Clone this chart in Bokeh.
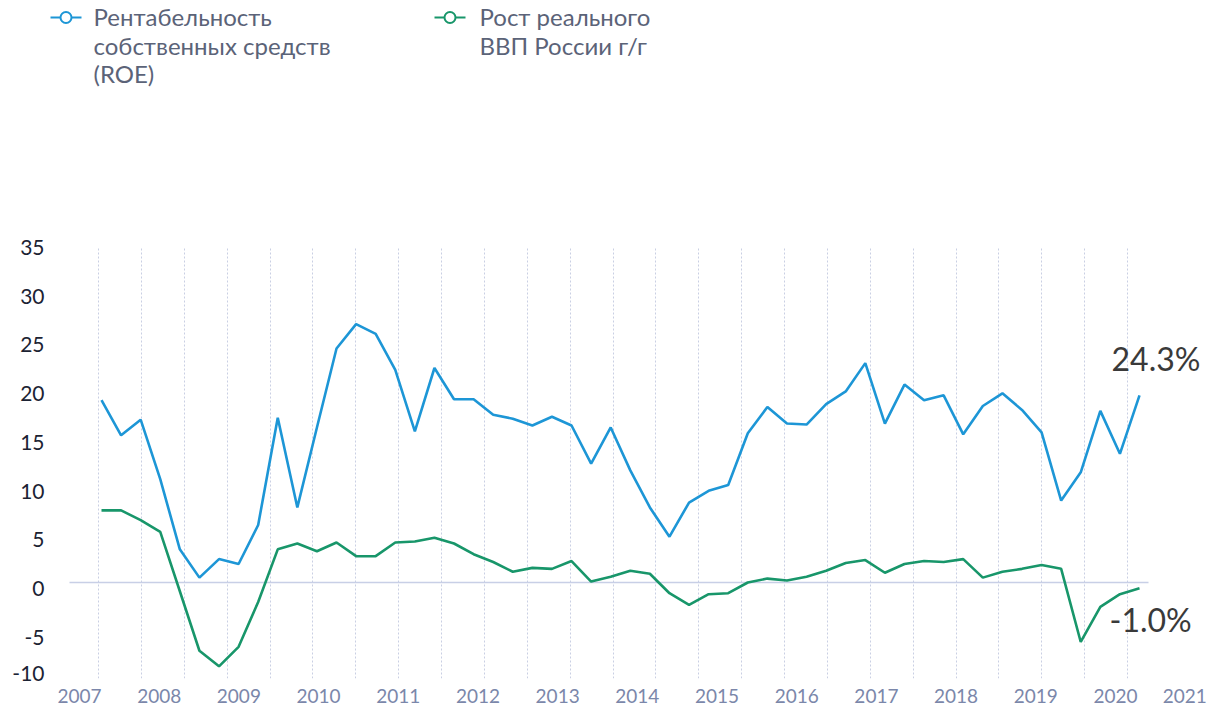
from bokeh.plotting import figure
from bokeh.models import (Range1d, LinearAxis, Grid, FixedTicker, Label,
                          CustomJSTickFormatter)
from bokeh.embed import file_html
from bokeh.resources import INLINE
from bokeh.core.properties import value

# ---------------- data ----------------
quarters = [f"{y}Q{q}" for y in range(2007, 2021) for q in range(1, 5)][:54]

roe = [18.7, 15.1, 16.7, 10.6, 3.4, 0.5, 2.4, 1.9, 5.9, 16.9,
       7.7, 15.9, 24.0, 26.5, 25.5, 21.8, 15.5, 22.0, 18.8, 18.8,
       17.2, 16.8, 16.1, 17.0, 16.1, 12.2, 15.9, 11.5, 7.7, 4.7,
       8.2, 9.4, 10.0, 15.3, 18.0, 16.3, 16.2, 18.3, 19.6, 22.5,
       16.3, 20.3, 18.7, 19.2, 15.2, 18.1, 19.4, 17.7, 15.4, 8.4,
       11.3, 17.6, 13.2, 19.2]

gdp = [7.4, 7.4, 6.4, 5.2, -0.9, -7.0, -8.6, -6.6, -2.0, 3.4,
       4.0, 3.2, 4.1, 2.7, 2.7, 4.1, 4.2, 4.6, 4.0, 2.9,
       2.1, 1.1, 1.5, 1.4, 2.2, 0.1, 0.6, 1.2, 0.9, -1.1,
       -2.3, -1.2, -1.1, 0.0, 0.4, 0.2, 0.6, 1.2, 2.0, 2.3,
       1.0, 1.9, 2.2, 2.1, 2.4, 0.5, 1.1, 1.4, 1.8, 1.4,
       -6.1, -2.5, -1.2, -0.6]

series_names = ["Рентабельность\nсобственных средств\n(ROE)",
                "Рост реального\nВВП России г/г"]
series_colors = ["#1d96d6", "#18966a"]

year_labels = [str(y) for y in range(2007, 2022)]
y_tick_labels = ["-10", "-5", "0", "5", "10", "15", "20", "25", "30", "35"]

last_roe_text = "24.3%"
last_gdp_text = "-1.0%"

FONT = "Lato"

# ---------------- layout geometry (page pixels) ----------------
W, H = 1207, 711
FRAME_L, FRAME_R = 45, 1207
BOTTOM_BORDER = 33
FRAME_B = H - BOTTOM_BORDER          # 678
ZERO_PAGE, PPU = 582.0, 9.75         # page y of value 0, px per unit
y_start = -(FRAME_B - ZERO_PAGE) / PPU
y_end = ZERO_PAGE / PPU

X0_PAGE, DX = 101.0, 19.585          # first quarter / px per quarter
x_start = (FRAME_L - X0_PAGE) / DX
x_end = (FRAME_R - X0_PAGE) / DX

YR0_PAGE, YR_DX = 79.0, 79.69        # 2007 label / px per year
G0_PAGE, G_DX = 98.0, 42.875         # vertical dotted grid
LABEL_DROP = 6.0                     # y labels sit a little below their gridline

p = figure(width=W, height=H,
           x_range=Range1d(x_start, x_end), y_range=Range1d(y_start, y_end),
           output_backend="svg", toolbar_location=None,
           x_axis_type=None, y_axis_type=None,
           min_border_left=FRAME_L, min_border_right=0,
           min_border_top=0, min_border_bottom=BOTTOM_BORDER)
p.outline_line_color = None

d = LABEL_DROP / PPU
p.extra_x_ranges = {
    "yr": Range1d(2007 + (FRAME_L - YR0_PAGE) / YR_DX, 2007 + (FRAME_R - YR0_PAGE) / YR_DX),
    "g": Range1d((FRAME_L - G0_PAGE) / G_DX, (FRAME_R - G0_PAGE) / G_DX),
    "lx": Range1d(FRAME_L, FRAME_R),
}
p.extra_y_ranges = {"ly": Range1d(FRAME_B, 0),
                    "ylab": Range1d(y_start + d, y_end + d)}

# x axis (years)
year_vals = [int(s) for s in year_labels]
tick_pos = year_vals[:-1] + [year_vals[-1] - 0.13]
xaxis = LinearAxis(x_range_name="yr", ticker=FixedTicker(ticks=tick_pos),
                   formatter=CustomJSTickFormatter(code="return Math.round(tick).toString()"))
xaxis.axis_line_color = None
xaxis.major_tick_line_color = None
xaxis.minor_tick_line_color = None
xaxis.major_tick_out = 0
xaxis.major_tick_in = 0
xaxis.major_label_standoff = 10
xaxis.major_label_text_font = FONT
xaxis.major_label_text_font_size = "19px"
xaxis.major_label_text_color = "#7b87aa"
p.add_layout(xaxis, "below")

# y axis (labels slightly below their values; lowest label kept inside the frame)
y_vals = [int(s) for s in y_tick_labels]
y_pos = [v for v in y_vals]
y_pos[0] = -8.72
yaxis = LinearAxis(y_range_name="ylab", ticker=FixedTicker(ticks=y_pos),
                   formatter=CustomJSTickFormatter(
                       code="return tick < -7.5 ? '-10' : Math.round(tick).toString()"))
yaxis.axis_line_color = None
yaxis.major_tick_line_color = None
yaxis.minor_tick_line_color = None
yaxis.major_tick_out = 0
yaxis.major_tick_in = 0
yaxis.major_label_standoff = 1
yaxis.major_label_text_font = FONT
yaxis.major_label_text_font_size = "21px"
yaxis.major_label_text_color = "#1c2333"
p.add_layout(yaxis, "left")

has_cross = "cross_bounds" in Grid.properties()

vgrid = Grid(dimension=0, x_range_name="g", ticker=FixedTicker(ticks=list(range(25))),
             grid_line_color="#c9cfe3", grid_line_dash="2 2", grid_line_width=1)
if has_cross:
    vgrid.cross_bounds = (-9.8, 34.25)
p.add_layout(vgrid)

zgrid = Grid(dimension=1, ticker=FixedTicker(ticks=[0]),
             grid_line_color="#c8cfe6", grid_line_width=1.5)
if has_cross:
    zgrid.cross_bounds = ((69 - X0_PAGE) / DX, len(roe) - 1 + 0.46)
p.add_layout(zgrid)

# series
x = list(range(len(roe)))
p.line(x, roe, line_color=series_colors[0], line_width=2.6)
p.line(x, gdp, line_color=series_colors[1], line_width=2.6)

# end annotations
p.add_layout(Label(x=x[-1], y=roe[-1], x_offset=-28, y_offset=37, text=last_roe_text,
                   text_font=FONT, text_font_size="32px", text_color="#3a3a3a",
                   text_baseline="middle", text_align="left"))
p.add_layout(Label(x=x[-1], y=gdp[-1], x_offset=-30, y_offset=-31, text=last_gdp_text,
                   text_font=FONT, text_font_size="32px", text_color="#3a3a3a",
                   text_baseline="middle", text_align="left"))

# legend (drawn in page-pixel ranges)
legend_x = [50, 434]
legend_text_x = [93, 479]
sym_y = 17
line_centers = [16, 44.5, 73]
for name, color, x0, tx in zip(series_names, series_colors, legend_x, legend_text_x):
    p.segment(x0=[x0], y0=[sym_y], x1=[x0 + 31], y1=[sym_y],
              line_color=color, line_width=2, x_range_name="lx", y_range_name="ly")
    p.scatter(x=[x0 + 15.5], y=[sym_y], size=11, marker="circle",
              fill_color="white", line_color=color, line_width=2,
              x_range_name="lx", y_range_name="ly")
    parts = name.split("\n")
    p.text(x=[tx] * len(parts), y=line_centers[:len(parts)], text=parts,
           text_font=value(FONT), text_font_size="24px", text_color="#5b6378",
           text_baseline="middle", text_align="left",
           x_range_name="lx", y_range_name="ly")

open("out.html", "w").write(file_html(p, INLINE))
